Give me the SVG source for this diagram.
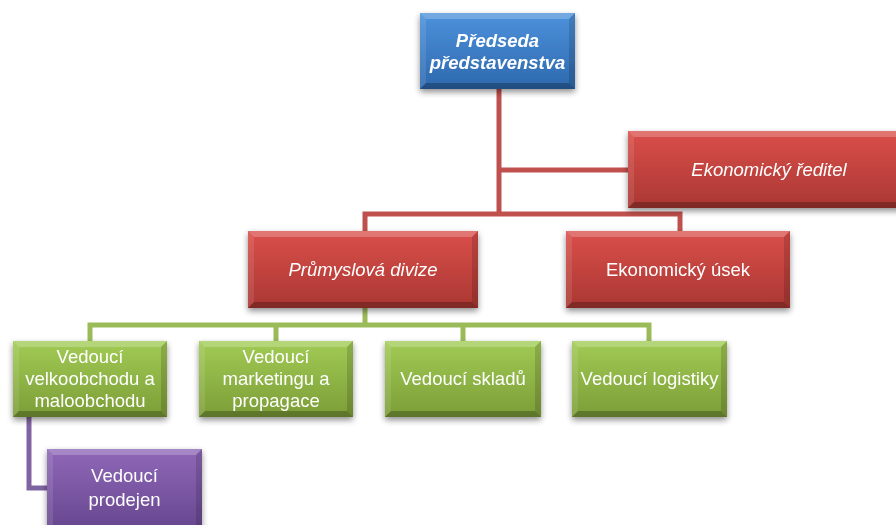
<svg xmlns="http://www.w3.org/2000/svg" width="896" height="525" viewBox="0 0 896 525">
  <defs>
    <linearGradient id="gBlue" x1="0" y1="0" x2="0" y2="1">
      <stop offset="0" stop-color="#4d92dc"/>
      <stop offset="1" stop-color="#2d68ad"/>
    </linearGradient>
    <linearGradient id="gRed" x1="0" y1="0" x2="0" y2="1">
      <stop offset="0" stop-color="#da4f4a"/>
      <stop offset="1" stop-color="#aa3733"/>
    </linearGradient>
    <linearGradient id="gGreen" x1="0" y1="0" x2="0" y2="1">
      <stop offset="0" stop-color="#a2cb55"/>
      <stop offset="1" stop-color="#7c9d37"/>
    </linearGradient>
    <linearGradient id="gPurple" x1="0" y1="0" x2="0" y2="1">
      <stop offset="0" stop-color="#8f68b8"/>
      <stop offset="1" stop-color="#68478f"/>
    </linearGradient>
    <filter id="shadow" x="-10%" y="-10%" width="120%" height="130%">
      <feGaussianBlur in="SourceAlpha" stdDeviation="3"/>
      <feOffset dx="0" dy="3" result="b"/>
      <feComponentTransfer><feFuncA type="linear" slope="0.45"/></feComponentTransfer>
      <feMerge><feMergeNode/><feMergeNode in="SourceGraphic"/></feMerge>
    </filter>
  </defs>
  <style>
    .box { filter: url(#shadow); }
    .hl { fill: #ffffff; opacity: 0.22; }
    .lt { fill: #ffffff; opacity: 0.10; }
    .dk { fill: #000000; opacity: 0.14; }
    .sh { fill: #000000; opacity: 0.25; }
    .t { font-family: "Liberation Sans", Arial, sans-serif; font-size: 18.5px; fill: #ffffff; text-anchor: middle; }
    .it { font-style: italic; }
    .bd { font-weight: bold; }
    .red { fill: none; stroke: #c0504d; stroke-width: 5; }
    .green { fill: none; stroke: #9bbb59; stroke-width: 5; }
    .purple { fill: none; stroke: #8064a2; stroke-width: 5; }
  </style>

  <!-- connectors -->
  <g id="connectors">
    <path class="red" d="M499 89 V214"/>
    <path class="red" d="M499 170 H630"/>
    <path class="red" d="M365 232 V214 H680 V232"/>
    <path class="green" d="M365 308 V325"/>
    <path class="green" d="M90 342 V325 H649 V342"/>
    <path class="green" d="M276 325 V342"/>
    <path class="green" d="M463 325 V342"/>
    <path class="purple" d="M29 416 V488 H48"/>
  </g>

  <!-- chairman -->
  <g id="predseda" class="box">
    <rect x="420" y="13" width="155" height="76" fill="url(#gBlue)"/>
    <polygon class="hl" points="420,13 575,13 569,19 426,19"/>
    <polygon class="lt" points="420,13 426,19 426,83 420,89"/>
    <polygon class="dk" points="575,13 575,89 569,83 569,19"/>
    <polygon class="sh" points="420,89 575,89 569,83 426,83"/>
    <text class="t it bd" x="497.5" y="47">Předseda</text>
    <text class="t it bd" x="497.5" y="69">představenstva</text>
  </g>

  <g id="ekonomicky-reditel" class="box">
    <rect x="628" y="131" width="282" height="77" fill="url(#gRed)"/>
    <polygon class="hl" points="628,131 910,131 904,137 634,137"/>
    <polygon class="lt" points="628,131 634,137 634,202 628,208"/>
    <polygon class="sh" points="628,208 910,208 904,202 634,202"/>
    <text class="t it" x="769" y="176">Ekonomický ředitel</text>
  </g>

  <g id="prumyslova-divize" class="box">
    <rect x="248" y="231" width="230" height="77" fill="url(#gRed)"/>
    <polygon class="hl" points="248,231 478,231 472,237 254,237"/>
    <polygon class="lt" points="248,231 254,237 254,302 248,308"/>
    <polygon class="dk" points="478,231 478,308 472,302 472,237"/>
    <polygon class="sh" points="248,308 478,308 472,302 254,302"/>
    <text class="t it" x="363" y="276">Průmyslová divize</text>
  </g>

  <g id="ekonomicky-usek" class="box">
    <rect x="566" y="231" width="224" height="77" fill="url(#gRed)"/>
    <polygon class="hl" points="566,231 790,231 784,237 572,237"/>
    <polygon class="lt" points="566,231 572,237 572,302 566,308"/>
    <polygon class="dk" points="790,231 790,308 784,302 784,237"/>
    <polygon class="sh" points="566,308 790,308 784,302 572,302"/>
    <text class="t" x="678" y="276">Ekonomický úsek</text>
  </g>

  <g id="velkoobchod" class="box">
    <rect x="13" y="341" width="154" height="76" fill="url(#gGreen)"/>
    <polygon class="hl" points="13,341 167,341 161,347 19,347"/>
    <polygon class="lt" points="13,341 19,347 19,411 13,417"/>
    <polygon class="dk" points="167,341 167,417 161,411 161,347"/>
    <polygon class="sh" points="13,417 167,417 161,411 19,411"/>
    <text class="t" x="90" y="363">Vedoucí</text>
    <text class="t" x="90" y="385">velkoobchodu a</text>
    <text class="t" x="90" y="407">maloobchodu</text>
  </g>

  <g id="marketing" class="box">
    <rect x="199" y="341" width="154" height="76" fill="url(#gGreen)"/>
    <polygon class="hl" points="199,341 353,341 347,347 205,347"/>
    <polygon class="lt" points="199,341 205,347 205,411 199,417"/>
    <polygon class="dk" points="353,341 353,417 347,411 347,347"/>
    <polygon class="sh" points="199,417 353,417 347,411 205,411"/>
    <text class="t" x="276" y="363">Vedoucí</text>
    <text class="t" x="276" y="385">marketingu a</text>
    <text class="t" x="276" y="407">propagace</text>
  </g>

  <g id="sklady" class="box">
    <rect x="385" y="341" width="156" height="76" fill="url(#gGreen)"/>
    <polygon class="hl" points="385,341 541,341 535,347 391,347"/>
    <polygon class="lt" points="385,341 391,347 391,411 385,417"/>
    <polygon class="dk" points="541,341 541,417 535,411 535,347"/>
    <polygon class="sh" points="385,417 541,417 535,411 391,411"/>
    <text class="t" x="463" y="385">Vedoucí skladů</text>
  </g>

  <g id="logistika" class="box">
    <rect x="572" y="341" width="155" height="76" fill="url(#gGreen)"/>
    <polygon class="hl" points="572,341 727,341 721,347 578,347"/>
    <polygon class="lt" points="572,341 578,347 578,411 572,417"/>
    <polygon class="dk" points="727,341 727,417 721,411 721,347"/>
    <polygon class="sh" points="572,417 727,417 721,411 578,411"/>
    <text class="t" x="649.5" y="385">Vedoucí logistiky</text>
  </g>

  <g id="prodejny" class="box">
    <rect x="47" y="449" width="155" height="80" fill="url(#gPurple)"/>
    <polygon class="hl" points="47,449 202,449 196,455 53,455"/>
    <polygon class="lt" points="47,449 53,455 53,529 47,529"/>
    <polygon class="dk" points="202,449 202,529 196,529 196,455"/>
    <text class="t" x="124.5" y="482">Vedoucí</text>
    <text class="t" x="124.5" y="506">prodejen</text>
  </g>
</svg>
